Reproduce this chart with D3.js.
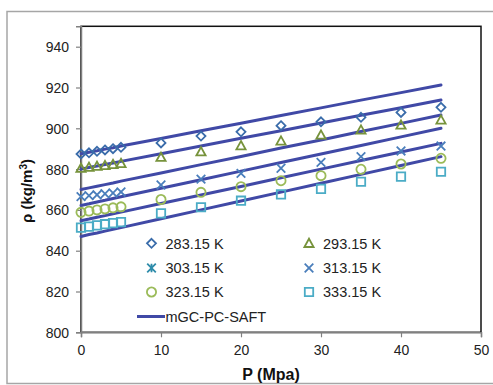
<!DOCTYPE html>
<html>
<head>
<meta charset="utf-8">
<script src="https://cdn.jsdelivr.net/npm/d3@7"></script>
<style>
  html, body { margin: 0; padding: 0; background: #fff; }
  svg { display: block; font-family: Arial, "Liberation Sans", sans-serif; }
</style>
</head>
<body>
<svg id="chart" width="493" height="385"></svg>
<script>
// ---------- DATA ----------
const pressures = [0, 1, 2, 3, 4, 5, 10, 15, 20, 25, 30, 35, 40, 45];
const temperatures = ["283.15 K", "293.15 K", "303.15 K", "313.15 K", "323.15 K", "333.15 K"];
const exp283 = [887.4, 888.0, 888.7, 889.4, 890.0, 890.7, 892.8, 896.2, 898.3, 901.3, 903.2, 905.4, 907.8, 910.3];
const exp293 = [880.4, 880.9, 881.4, 881.8, 882.3, 882.8, 885.8, 888.5, 891.5, 893.8, 896.7, 899.2, 901.6, 904.1];
const exp303 = []; // no visible points in the reference
const exp313 = [866.5, 867.0, 867.4, 867.9, 868.3, 868.8, 872.2, 875.1, 877.9, 880.4, 883.3, 886.1, 888.9, 891.3];
const exp323 = [858.8, 859.4, 860.0, 860.5, 861.0, 861.5, 865.1, 868.6, 871.4, 874.3, 876.8, 879.9, 882.5, 885.3];
const exp333 = [851.3, 851.8, 852.4, 853.0, 853.5, 854.0, 858.3, 861.3, 864.5, 867.6, 870.3, 873.8, 876.3, 878.7];
const model1 = [887.5, 888.3, 889.0, 889.8, 890.5, 891.3, 895.0, 898.8, 902.5, 906.3, 910.0, 913.8, 917.5, 921.2];
const model2 = [880.0, 880.8, 881.5, 882.3, 883.0, 883.8, 887.5, 891.3, 895.1, 898.8, 902.6, 906.4, 910.1, 913.9];
const model3 = [870.0, 870.8, 871.6, 872.4, 873.2, 874.1, 878.1, 882.2, 886.2, 890.3, 894.3, 898.4, 902.4, 906.5];
const model4 = [862.2, 863.0, 863.9, 864.7, 865.6, 866.4, 870.6, 874.8, 879.0, 883.2, 887.4, 891.6, 895.8, 900.0];
const model5 = [854.7, 855.5, 856.4, 857.2, 858.1, 858.9, 863.1, 867.3, 871.5, 875.8, 880.0, 884.2, 888.4, 892.6];
const model6 = [847.0, 847.9, 848.7, 849.6, 850.5, 851.3, 855.7, 860.0, 864.4, 868.7, 873.1, 877.4, 881.8, 886.1];
const xTicks = [0, 10, 20, 30, 40, 50];
const yTicks = [800, 820, 840, 860, 880, 900, 920, 940];
const modelLabel = "mGC-PC-SAFT";

// ---------- STYLE ----------
const expSeries = [
  { name: temperatures[0], values: exp283, shape: "diamond",  color: "#3A6CAA" },
  { name: temperatures[1], values: exp293, shape: "triangle", color: "#77933C" },
  { name: temperatures[2], values: exp303, shape: "star",     color: "#2E8CAA" },
  { name: temperatures[3], values: exp313, shape: "x",        color: "#4A7EBB" },
  { name: temperatures[4], values: exp323, shape: "circle",   color: "#9BBB59" },
  { name: temperatures[5], values: exp333, shape: "square",   color: "#4BACC6" }
];
const models = [model1, model2, model3, model4, model5, model6];
const lineColor = "#4049A6";

const svg = d3.select("#chart");
const pLeft = 81, pRight = 481, pTop = 26.3, pBottom = 332.3;

const x = d3.scaleLinear().domain([0, 50]).range([pLeft, pRight]);
const y = d3.scaleLinear().domain([800, 950]).range([pBottom, pTop]);

// outer chart border
svg.append("rect").attr("x", 7).attr("y", 11.5).attr("width", 495).attr("height", 372)
  .attr("fill", "#fff").attr("stroke", "#a6a6a6").attr("stroke-width", 1.5);

// plot area frame
svg.append("rect").attr("x", pLeft).attr("y", pTop).attr("width", pRight - pLeft).attr("height", pBottom - pTop)
  .attr("fill", "#fff").attr("stroke", "#111").attr("stroke-width", 1.5);

// axes
const yAxis = d3.axisLeft(y).tickValues(yTicks).tickSize(5).tickPadding(7).tickFormat(d3.format("d"));
const xAxis = d3.axisBottom(x).tickValues(xTicks).tickSize(5).tickPadding(8).tickFormat(d3.format("d"));

const gy = svg.append("g").attr("transform", `translate(${pLeft},0)`).call(yAxis);
const gx = svg.append("g").attr("transform", `translate(0,${pBottom})`).call(xAxis);
[gx, gy].forEach(g => {
  g.select(".domain").attr("stroke", "#808080").attr("stroke-width", 1.5);
  g.selectAll(".tick line").attr("stroke", "#808080").attr("stroke-width", 1.2);
  g.selectAll(".tick text").attr("fill", "#222").style("font-size", "14px")
    .style("font-family", "Arial, 'Liberation Sans', sans-serif");
});
gy.selectAll(".tick text").attr("dy", "0.35em");

// axis titles
svg.append("text").attr("x", 271).attr("y", 380).attr("text-anchor", "middle")
  .style("font-size", "16px").style("font-weight", "bold").attr("fill", "#111").text("P (Mpa)");
const yt = svg.append("text").attr("transform", "translate(32,191) rotate(-90)").attr("text-anchor", "middle")
  .style("font-size", "15px").style("font-weight", "bold").attr("fill", "#111");
yt.append("tspan").text("ρ (kg/m");
yt.append("tspan").attr("dy", "-5").style("font-size", "10px").text("3");
yt.append("tspan").attr("dy", "5").text(")");

// model lines
const line = d3.line().x((d, i) => x(pressures[i])).y(d => y(d));
const plot = svg.append("g");
models.forEach(m => {
  plot.append("path").datum(m).attr("d", line).attr("fill", "none")
    .attr("stroke", lineColor).attr("stroke-width", 3).attr("stroke-linecap", "round");
});

// marker paths
function markerPath(shape, r) {
  switch (shape) {
    case "diamond": return `M0,${-r}L${r},0L0,${r}L${-r},0Z`;
    case "triangle": return `M0,${-r}L${r},${r*0.8}L${-r},${r*0.8}Z`;
    case "square": return `M${-r},${-r}H${r}V${r}H${-r}Z`;
    case "x": return `M${-r},${-r}L${r},${r}M${-r},${r}L${r},${-r}`;
    case "star": return `M${-r},${-r}L${r},${r}M${-r},${r}L${r},${-r}M0,${-r}V${r}`;
    case "circle": return `M${r},0A${r},${r} 0 1,1 ${-r},0A${r},${r} 0 1,1 ${r},0Z`;
  }
}
const markerR = { diamond: 4.5, triangle: 4.6, square: 4.2, x: 4.3, star: 4.3, circle: 4.6 };

expSeries.forEach(s => {
  plot.selectAll(null).data(s.values).enter().append("path")
    .attr("transform", (d, i) => `translate(${x(pressures[i])},${y(d)})`)
    .attr("d", markerPath(s.shape, markerR[s.shape]))
    .attr("fill", "none").attr("stroke", s.color).attr("stroke-width", 1.8);
});

// legend
const legCols = [151.5, 309];
const legRows = [243.3, 268, 292];
const legend = svg.append("g").style("font-size", "14.5px");
expSeries.forEach((s, i) => {
  const cx = legCols[i % 2], cy = legRows[Math.floor(i / 2)];
  legend.append("path").attr("transform", `translate(${cx},${cy})`)
    .attr("d", markerPath(s.shape, markerR[s.shape]))
    .attr("fill", "none").attr("stroke", s.color).attr("stroke-width", 1.8);
  legend.append("text").attr("x", cx + 14).attr("y", cy).attr("dy", "0.36em")
    .attr("fill", "#222").text(s.name);
});
legend.append("line").attr("x1", 137).attr("x2", 165).attr("y1", 316.5).attr("y2", 316.5)
  .attr("stroke", lineColor).attr("stroke-width", 3);
legend.append("text").attr("x", 165.5).attr("y", 316.5).attr("dy", "0.36em")
  .attr("fill", "#222").text(modelLabel);
</script>
</body>
</html>
